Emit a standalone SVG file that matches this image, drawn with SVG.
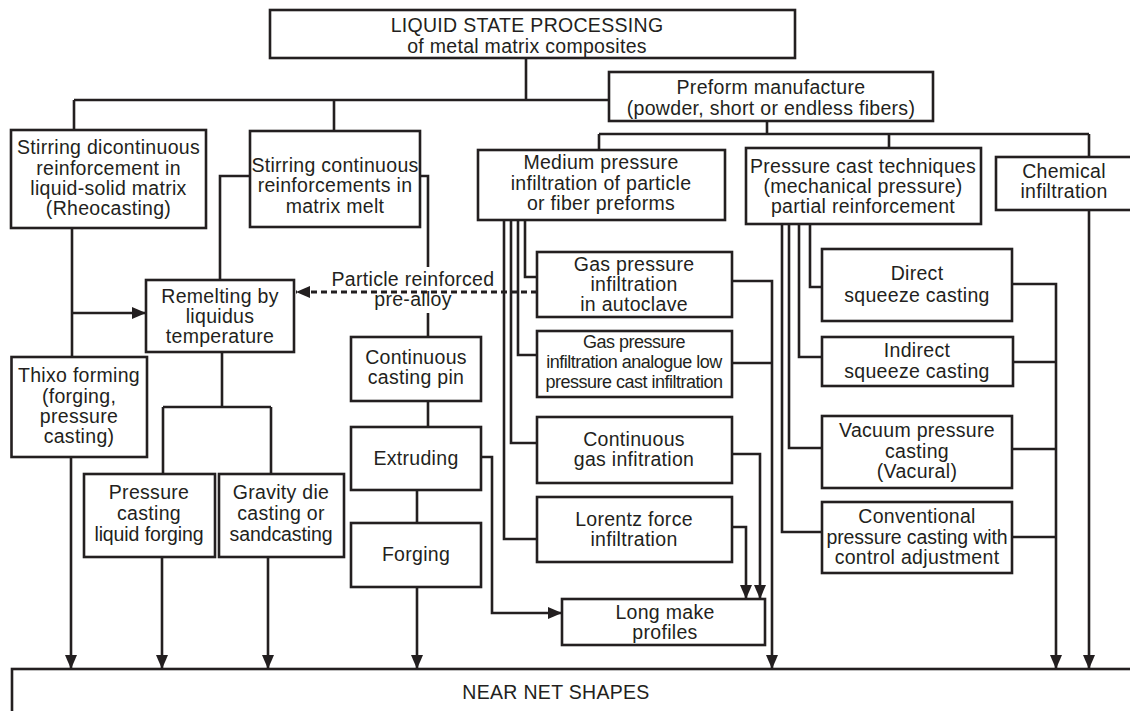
<svg xmlns="http://www.w3.org/2000/svg" width="1130" height="711" viewBox="0 0 1130 711">
<style>
.b{fill:#fff;stroke:#231f20;stroke-width:2.6}
.c{fill:none;stroke:#231f20;stroke-width:2.6}
.d{fill:none;stroke:#231f20;stroke-width:2.8;stroke-dasharray:6 4}
text{font-family:"Liberation Sans",Arial,Helvetica,sans-serif;font-size:19.5px;fill:#231f20;text-anchor:middle;letter-spacing:0.3px}
.s{font-size:18px;letter-spacing:-0.5px}
.t{letter-spacing:-0.1px}
</style>
<defs>
<marker id="ah" viewBox="0 0 14 12" refX="14" refY="6" markerWidth="14" markerHeight="12" markerUnits="userSpaceOnUse" orient="auto"><path d="M0,0 L14,6 L0,12 z" fill="#231f20"/></marker>
</defs>
<rect width="1130" height="711" fill="#fff"/>
<g id="connectors">
<path class="c" d="M526,58 V100 M74,100 H609 M74,100 V130 M334,100 V131"/>
<path class="c" d="M767,121 V134 M599,134 H1089 M599,134 V150 M889,134 V148 M1089,134 V157"/>
<path class="c" d="M250,176 H220 V280 M420,176 H428 V267 M428,313 V337"/>
<path class="c" d="M72,228 V357"/>
<path class="c" d="M72,313 H146" marker-end="url(#ah)"/>
<path class="c" d="M222,352 V407 M163,407 H271 M163,407 V474 M271,407 V474"/>
<path class="c" d="M71,457 V669" marker-end="url(#ah)"/>
<path class="c" d="M162,557 V669" marker-end="url(#ah)"/>
<path class="c" d="M268,557 V669" marker-end="url(#ah)"/>
<path class="c" d="M428,401 V427 M417,490 V523"/>
<path class="c" d="M417,587 V669" marker-end="url(#ah)"/>
<path class="c" d="M481,457 H492 V613 H562" marker-end="url(#ah)"/>
<path class="d" d="M537,292 H296" marker-end="url(#ah)"/>
<path class="c" d="M525,220 V277 H537 M518,220 V355 H537 M511,220 V443 H537 M504,220 V539 H537"/>
<path class="c" d="M732,281 H772 V669" marker-end="url(#ah)"/>
<path class="c" d="M732,363 H772"/>
<path class="c" d="M732,454 H760 V599" marker-end="url(#ah)"/>
<path class="c" d="M732,527 H746 V599" marker-end="url(#ah)"/>
<path class="c" d="M810,224 V287 H822 M799,224 V357 H822 M789,224 V448 H822 M782,224 V532 H822"/>
<path class="c" d="M1012,284 H1056 V669" marker-end="url(#ah)"/>
<path class="c" d="M1012,362 H1056 M1012,449 H1056 M1012,537 H1056"/>
<path class="c" d="M1089,210 V669" marker-end="url(#ah)"/>
</g>
<g id="n-top"><rect class="b" x="270" y="10" width="525" height="48"/><text x="527" y="32">LIQUID STATE PROCESSING</text><text x="527" y="52.5">of metal matrix composites</text></g>
<g id="n-preform"><rect class="b" x="609" y="72" width="324" height="49"/><text x="771" y="94">Preform manufacture</text><text x="771" y="115">(powder, short or endless fibers)</text></g>
<g id="n-stir1"><rect class="b" x="11" y="130" width="195" height="98"/><text x="108.5" y="154">Stirring dicontinuous</text><text x="108.5" y="175">reinforcement in</text><text x="108.5" y="195">liquid-solid matrix</text><text x="108.5" y="215">(Rheocasting)</text></g>
<g id="n-stir2"><rect class="b" x="250" y="131" width="170" height="96"/><text x="335" y="172">Stirring continuous</text><text x="335" y="192">reinforcements in</text><text x="335" y="212.5">matrix melt</text></g>
<g id="n-medium"><rect class="b" x="478" y="150" width="247" height="70"/><text x="601" y="169">Medium pressure</text><text x="601" y="190">infiltration of particle</text><text x="601" y="210">or fiber preforms</text></g>
<g id="n-pressurecast"><rect class="b" x="746" y="148" width="235" height="76"/><text x="863" y="173">Pressure cast techniques</text><text x="863" y="193">(mechanical pressure)</text><text x="863" y="213">partial reinforcement</text></g>
<g id="n-chemical"><rect class="b" x="996" y="157" width="140" height="53"/><text x="1064" y="178">Chemical</text><text x="1064" y="198">infiltration</text></g>
<g id="n-remelt"><rect class="b" x="146" y="280" width="148" height="72"/><text x="220" y="303">Remelting by</text><text x="220" y="323">liquidus</text><text x="220" y="343">temperature</text></g>
<g id="n-thixo"><rect class="b" x="11.5" y="357" width="135.5" height="100"/><text x="79" y="382">Thixo forming</text><text x="79" y="403">(forging,</text><text x="79" y="423">pressure</text><text x="79" y="443">casting)</text></g>
<g id="n-pcast"><rect class="b" x="84" y="474" width="131" height="83"/><text x="149" y="499">Pressure</text><text x="149" y="520">casting</text><text class="t" x="149" y="541">liquid forging</text></g>
<g id="n-gravity"><rect class="b" x="219" y="474" width="125" height="83"/><text x="281" y="499">Gravity die</text><text x="281" y="520">casting or</text><text class="t" x="281" y="541">sandcasting</text></g>
<g id="n-pin"><rect class="b" x="351" y="337" width="130" height="64"/><text x="416" y="364">Continuous</text><text x="416" y="384">casting pin</text></g>
<g id="n-extrude"><rect class="b" x="351" y="427" width="130" height="63"/><text x="416" y="465">Extruding</text></g>
<g id="n-forging"><rect class="b" x="351" y="523" width="130" height="64"/><text x="416" y="561">Forging</text></g>
<g id="l-prealloy"><text x="413" y="285.5">Particle reinforced</text><text x="413" y="306">pre-alloy</text></g>
<g id="n-gasauto"><rect class="b" x="537" y="252" width="195" height="65"/><text x="634" y="271">Gas pressure</text><text x="634" y="291">infiltration</text><text x="634" y="311">in autoclave</text></g>
<g id="n-gasanalog"><rect class="b" x="537" y="331" width="195" height="66"/><text class="s" x="634" y="348">Gas pressure</text><text class="s" x="634" y="368">infiltration analogue low</text><text class="s" x="634" y="388">pressure cast infiltration</text></g>
<g id="n-contgas"><rect class="b" x="537" y="417" width="195" height="66"/><text x="634" y="446">Continuous</text><text x="634" y="466">gas infitration</text></g>
<g id="n-lorentz"><rect class="b" x="537" y="497" width="195" height="65"/><text x="634" y="526">Lorentz force</text><text x="634" y="546">infiltration</text></g>
<g id="n-longmake"><rect class="b" x="562" y="599" width="203" height="46"/><text x="665" y="619">Long make</text><text x="665" y="639">profiles</text></g>
<g id="n-direct"><rect class="b" x="822" y="249" width="190" height="72"/><text x="917" y="280">Direct</text><text x="917" y="302">squeeze casting</text></g>
<g id="n-indirect"><rect class="b" x="822" y="337" width="191" height="49"/><text x="917" y="357">Indirect</text><text x="917" y="378">squeeze casting</text></g>
<g id="n-vacuum"><rect class="b" x="822" y="416" width="190" height="72"/><text x="917" y="437">Vacuum pressure</text><text x="917" y="458">casting</text><text x="917" y="478">(Vacural)</text></g>
<g id="n-conv"><rect class="b" x="822" y="502" width="190" height="71"/><text x="917" y="523">Conventional</text><text class="t" x="917" y="544">pressure casting with</text><text x="917" y="564">control adjustment</text></g>
<g id="n-nearnet"><rect class="b" x="12" y="669" width="1130" height="60"/><text x="556" y="699">NEAR NET SHAPES</text></g>
</svg>
